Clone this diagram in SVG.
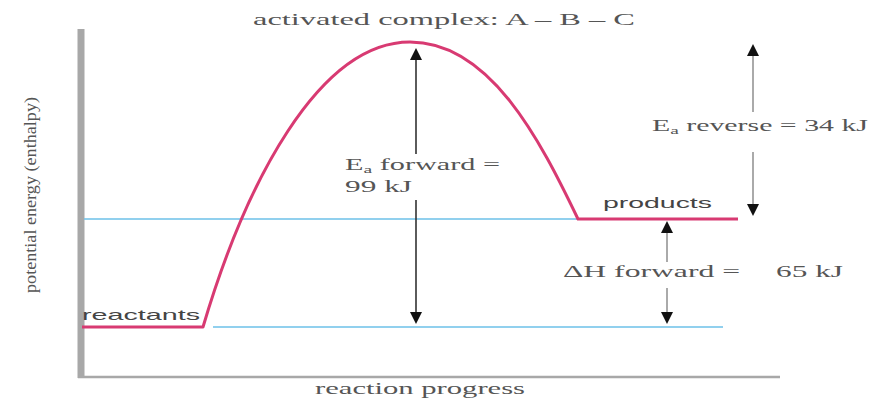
<svg xmlns="http://www.w3.org/2000/svg" width="872" height="400" viewBox="0 0 872 400">
<style>
.t{font-family:"Liberation Serif",serif;font-size:17px;fill:#555}
.s{font-family:"Liberation Sans",sans-serif;font-size:15px;fill:#444}
.ax{stroke:#a8a8a8;fill:none}
.lvl{stroke:#6cc0e8;stroke-width:1.3;fill:none}
.cv{stroke:#d83a72;stroke-width:3;fill:none;stroke-linejoin:round}
.ar{stroke:#333;stroke-width:1.6;fill:none}
.arl{stroke:#aaa;stroke-width:2;fill:none}
</style>
<defs>
<marker id="ah" viewBox="0 0 10 10" refX="5" refY="5" markerWidth="14" markerHeight="12" markerUnits="userSpaceOnUse" orient="auto-start-reverse">
<path d="M0,0 L10,5 L0,10 z" fill="#111"/>
</marker>
</defs>
<g id="axes">
<line class="ax" x1="81" y1="29" x2="81" y2="378" stroke-width="7"/>
<line class="ax" x1="78" y1="377" x2="780" y2="377" stroke-width="2.5"/>
<text class="t" transform="translate(36,195) rotate(-90)" text-anchor="middle" font-size="19" textLength="196" lengthAdjust="spacingAndGlyphs">potential energy (enthalpy)</text>
<text class="t" x="315" y="394" font-size="18" textLength="210" lengthAdjust="spacingAndGlyphs">reaction progress</text>
</g>
<g id="levels">
<line class="lvl" x1="84" y1="219" x2="578" y2="219"/>
<line class="lvl" x1="213" y1="327" x2="723" y2="327"/>
</g>
<g id="curve">
<path class="cv" d="M82 327 L203 327 C245 185 318 42 410 42 C490 42 540 140 578 219 L738 219"/>
</g>
<g id="title"><text class="t" x="253" y="25" font-size="18" textLength="382" lengthAdjust="spacingAndGlyphs">activated complex:   A – B – C</text></g>
<g id="reactants"><text class="s" x="82" y="320" font-size="16" textLength="118" lengthAdjust="spacingAndGlyphs">reactants</text></g>
<g id="products"><text class="s" x="603" y="208" font-size="16" textLength="109" lengthAdjust="spacingAndGlyphs">products</text></g>
<g id="connectors">
<line class="ar" x1="416" y1="154" x2="416" y2="54" marker-end="url(#ah)"/>
<line class="ar" x1="416" y1="200" x2="416" y2="318" marker-end="url(#ah)"/>
<line class="arl" x1="753" y1="112" x2="753" y2="50" marker-end="url(#ah)"/>
<line class="arl" x1="753" y1="152" x2="753" y2="210" marker-end="url(#ah)"/>
<line class="arl" x1="667" y1="262" x2="667" y2="227" marker-end="url(#ah)"/>
<line class="arl" x1="667" y1="288" x2="667" y2="318" marker-end="url(#ah)"/>
</g>
<g id="ea-forward"><text class="t" x="345" y="170" textLength="155" lengthAdjust="spacingAndGlyphs">E<tspan font-size="11" dy="3">a</tspan><tspan dy="-3"> forward =</tspan></text><text class="t" x="345" y="192" textLength="67" lengthAdjust="spacingAndGlyphs">99 kJ</text></g>
<g id="ea-reverse"><text class="t" x="652" y="131" textLength="216" lengthAdjust="spacingAndGlyphs">E<tspan font-size="11" dy="3">a</tspan><tspan dy="-3"> reverse = 34 kJ</tspan></text></g>
<g id="dh"><text class="t" x="563" y="277" textLength="177" lengthAdjust="spacingAndGlyphs">ΔH forward =</text><text class="t" x="776" y="277" textLength="67" lengthAdjust="spacingAndGlyphs">65 kJ</text></g>
</svg>
